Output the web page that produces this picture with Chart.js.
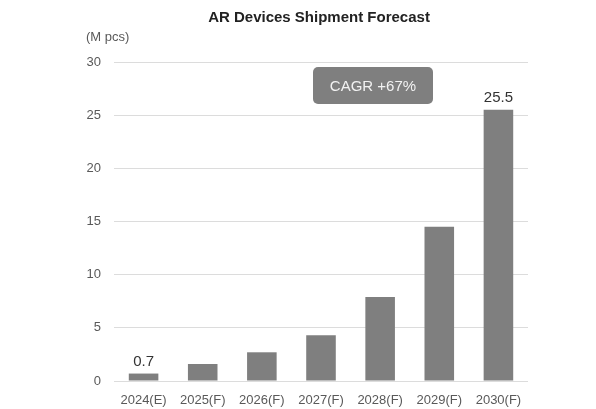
<!DOCTYPE html>
<html>
<head>
<meta charset="utf-8">
<script src="https://cdn.jsdelivr.net/npm/chart.js@4/dist/chart.umd.min.js"></script>
<style>
  html, body { margin: 0; padding: 0; background: #fff; }
  #wrap { width: 596px; height: 409px; }
</style>
</head>
<body>
<div id="wrap"><canvas id="barChart" width="596" height="409"></canvas></div>
<script>
// chart data
var years = ["2024(E)", "2025(F)", "2026(F)", "2027(F)", "2028(F)", "2029(F)", "2030(F)"];
var shipments = [0.7, 1.6, 2.7, 4.3, 7.9, 14.5, 25.5];
var labelledBars = [0, 6];
var chartTitle = "AR Devices Shipment Forecast";
var unitLabel = "(M pcs)";
var cagrText = "CAGR +67%";

var FONT = "'Liberation Sans', Arial, sans-serif";

// title, unit, CAGR badge and value labels
var extras = {
  id: "extras",
  afterDatasetsDraw: function (chart) {
    var c = chart.ctx;
    c.save();
    c.textAlign = "center";
    c.textBaseline = "middle";

    c.fillStyle = "#222";
    c.font = "bold 15px " + FONT;
    c.fillText(chartTitle, 319, 18);

    c.fillStyle = "#595959";
    c.font = "13px " + FONT;
    c.textAlign = "left";
    c.fillText(unitLabel, 86, 37);

    // CAGR box
    c.fillStyle = "#7f7f7f";
    c.beginPath();
    c.roundRect(313, 67, 120, 37, 5);
    c.fill();
    c.fillStyle = "#f2f2f2";
    c.font = "15px " + FONT;
    c.textAlign = "center";
    c.fillText(cagrText, 373, 87);

    // value labels
    var meta = chart.getDatasetMeta(0);
    c.fillStyle = "#333";
    c.font = "15px " + FONT;
    labelledBars.forEach(function (i) {
      var bar = meta.data[i];
      c.fillText(String(shipments[i]), bar.x, bar.y - 12);
    });
    c.restore();
  }
};

var ctx = document.getElementById("barChart").getContext("2d");
var barChart = new Chart(ctx, {
  type: "bar",
  data: {
    labels: years,
    datasets: [
      {
        label: "Shipment",
        data: shipments,
        backgroundColor: "#7f7f7f",
        borderWidth: 0,
        categoryPercentage: 1,
        barPercentage: 0.5,
      },
    ],
  },
  options: {
    responsive: false,
    animation: false,
    layout: {
      padding: { left: 80, right: 68, top: 62, bottom: 0 },
    },
    plugins: {
      legend: { display: false },
      tooltip: { enabled: false },
    },
    scales: {
      x: {
        grid: { display: false, drawTicks: false },
        border: { display: false },
        ticks: {
          color: "#595959",
          font: { family: FONT, size: 13 },
          padding: 12,
          maxRotation: 0,
          autoSkip: false,
        },
        afterFit: function (scale) { scale.height = 28; },
      },
      y: {
        min: 0,
        max: 30,
        grid: { color: "#dcdcdc", lineWidth: 1, drawTicks: false },
        border: { display: false },
        ticks: {
          stepSize: 5,
          color: "#595959",
          font: { family: FONT, size: 13 },
          padding: 13,
        },
        afterFit: function (scale) { scale.width = 34; },
      },
    },
  },
  plugins: [extras],
});
</script>
</body>
</html>
